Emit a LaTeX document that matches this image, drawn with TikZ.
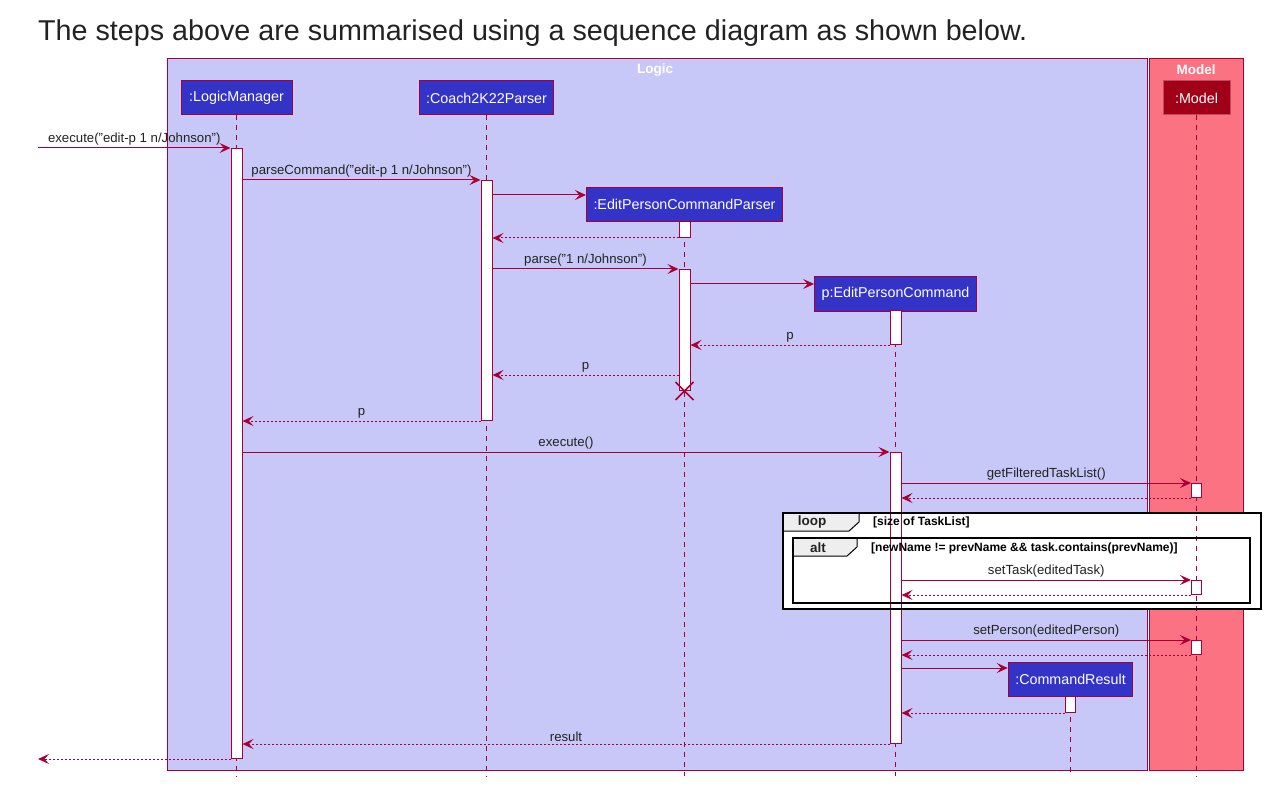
\documentclass[tikz,border=0pt]{standalone}
\usepackage{fontspec}
\setmainfont{Liberation Sans}
\usetikzlibrary{arrows.meta,positioning}
\definecolor{umlred}{RGB}{168,0,54}
\definecolor{umlblue}{RGB}{51,51,200}
\definecolor{logicbg}{RGB}{200,200,248}
\definecolor{modelbg}{RGB}{251,114,130}
\definecolor{modeldark}{RGB}{160,0,24}
\definecolor{labelgrey}{RGB}{34,34,34}
\definecolor{tabgrey}{RGB}{238,238,238}
\tikzset{
  sqgroup/.style={draw=umlred, line width=1pt},
  sqtitle/.style={text=white, inner sep=0pt, font=\fontsize{13.5}{16}\selectfont\bfseries},
  sqpart/.style={rectangle, draw=umlred, fill=umlblue, text=white, line width=1pt,
                 minimum height=34pt, inner xsep=7pt, font=\fontsize{14.3}{17}\selectfont},
  sqmodel/.style={sqpart, fill=modeldark, draw=modeldark!70!white, minimum width=67pt},
  sqlife/.style={umlred, line width=0.8pt, dash pattern=on 5pt off 5pt},
  sqbar/.style={rectangle, draw=umlred, fill=white, line width=1pt, minimum width=11pt,
                inner sep=0pt, anchor=north},
  sqcall/.style={-{Stealth[length=11pt, width=10pt, inset=4.5pt]}, umlred, line width=1pt},
  sqret/.style={sqcall, dash pattern=on 2pt off 2pt},
  sqlbl/.style={above, inner sep=2pt, text=labelgrey, font=\fontsize{13.2}{15}\selectfont},
  sqkill/.style={umlred, line width=1.6pt},
  sqframe/.style={draw=black, line width=2.5pt},
  sqtab/.style={draw=black, fill=tabgrey, line width=1pt},
  sqkey/.style={text=labelgrey, inner sep=0pt, font=\fontsize{13.5}{15}\selectfont\bfseries},
  sqguard/.style={anchor=west, inner sep=0pt, text=black, font=\fontsize{12}{13}\selectfont\bfseries},
}

\begin{document}
\begin{tikzpicture}[x=1pt, y=-1pt]
  \useasboundingbox (0,0) rectangle (1274,802);

  % ---- caption -------------------------------------------------------------
  \node[anchor=west, inner sep=0pt, text=labelgrey, font=\fontsize{28.7}{34}\selectfont] (caption)
    at (38,33) {The steps above are summarised using a sequence diagram as shown below.};

  % ---- the two groups --------------------------------------------------------
  \draw[sqgroup, fill=logicbg] (167,59) rectangle (1147,770);
  \draw[sqgroup, fill=modelbg] (1149,59) rectangle (1243,770);
  \node[sqtitle] (logicT) at (655,70) {Logic};
  \node[sqtitle] (modelT) at (1196,70) {Model};

  % ---- loop / alt frames (white under the lifelines) -------------------------
  \fill[white] (783,513) rectangle (1261,609);

  % ---- participants and lifelines ------------------------------------------
  \coordinate (bottom) at (0,776);
  \node[sqpart, minimum width=111pt] (lm)  at (236.5,98)  {:LogicManager};
  \node[sqpart]  (cp)  at (486.5,98)  {:Coach2K22Parser};
  \node[sqpart]  (ecp) at (684.5,204.5) {:EditPersonCommandParser};
  \node[sqpart]  (ec)  at (895.5,294) {p:EditPersonCommand};
  \node[sqpart]  (cr)  at (1070.5,679) {:CommandResult};
  \node[sqmodel] (mo)  at (1196.5,98) {:Model};
  \foreach \p in {lm,cp,ecp,ec,cr,mo}
    \draw[sqlife] (\p.south) -- (\p.south |- bottom);

  % ---- activations -----------------------------------------------------------
  \node[sqbar, minimum height=610pt] (lmA)  at (lm |- 0,148)  {};
  \node[sqbar, minimum height=240pt] (cpA)  at (cp |- 0,180)  {};
  \node[sqbar, minimum height=16pt]  (ecpA) at (ecp |- 0,221) {};
  \node[sqbar, minimum height=121pt] (ecpB) at (ecp |- 0,269) {};
  \node[sqbar, minimum height=34pt]  (ecA)  at (ec |- 0,310)  {};
  \node[sqbar, minimum height=291pt] (ecB)  at (ec |- 0,452)  {};
  \node[sqbar, minimum height=14pt, minimum width=10pt] (moA) at (mo |- 0,483) {};
  \node[sqbar, minimum height=14pt, minimum width=10pt] (moB) at (mo |- 0,580) {};
  \node[sqbar, minimum height=14pt, minimum width=10pt] (moC) at (mo |- 0,640) {};
  \node[sqbar, minimum height=16pt, minimum width=10pt] (crA) at (cr |- 0,696) {};

  % ---- loop / alt frames -----------------------------------------------------
  \draw[sqtab] (783,513) -- (859,513) -- (859,522) -- (849,531) -- (783,531) -- cycle;
  \draw[sqframe] (783,513) rectangle (1261,609);
  \node[sqkey] (loopK) at (812,522) {loop};
  \node[sqguard] (loopG) at (873,522) {[size of TaskList]};
  \draw[sqtab] (793,538) -- (857,538) -- (857,547) -- (847,556) -- (793,556) -- cycle;
  \draw[sqframe] (793,538) rectangle (1250,603);
  \node[sqkey] (altK) at (818,547.5) {alt};
  \node[sqguard] (altG) at (871,548) {[newName != prevName \&\& task.contains(prevName)]};

  % ---- messages --------------------------------------------------------------
  \coordinate (ext) at (38,148);
  \draw[sqcall] (ext) -- node[sqlbl] {execute("edit-p 1 n/Johnson")} (lmA.north west);
  \draw[sqcall] (lmA.east |- cpA.north) -- node[sqlbl] {parseCommand("edit-p 1 n/Johnson")} (cpA.north west);
  \draw[sqcall] (cpA.east |- 0,195) -- (ecp.west |- 0,195);
  \draw[sqret]  (ecpA.south west) -- (cpA.east |- ecpA.south);
  \draw[sqcall] (cpA.east |- ecpB.north) -- node[sqlbl] {parse("1 n/Johnson")} (ecpB.north west);
  \draw[sqcall] (ecpB.east |- 0,284) -- (ec.west |- 0,284);
  \draw[sqret]  (ecA.south west) -- node[sqlbl] {p} (ecpB.east |- ecA.south);
  \draw[sqret]  (ecpB.west |- 0,375) -- node[sqlbl] {p} (cpA.east |- 0,375);
  \draw[sqkill] (ecpB.south) +(-9,-9) -- +(9,9) (ecpB.south) +(-9,9) -- +(9,-9);
  \draw[sqret]  (cpA.south west) -- node[sqlbl] {p} (lmA.east |- cpA.south);
  \draw[sqcall] (lmA.east |- ecB.north) -- node[sqlbl] {execute()} (ecB.north west);
  \draw[sqcall] (ecB.east |- moA.north) -- node[sqlbl] {getFilteredTaskList()} (moA.north west);
  \draw[sqret]  (moA.south west) -- (ecB.east |- moA.south);
  \draw[sqcall] (ecB.east |- moB.north) -- node[sqlbl] {setTask(editedTask)} (moB.north west);
  \draw[sqret]  (moB.south west) -- (ecB.east |- moB.south);
  \draw[sqcall] (ecB.east |- moC.north) -- node[sqlbl] {setPerson(editedPerson)} (moC.north west);
  \draw[sqret]  (moC.south west) -- (ecB.east |- moC.south);
  \draw[sqcall] (ecB.east |- 0,668) -- (cr.west |- 0,668);
  \draw[sqret]  (crA.south west) -- (ecB.east |- crA.south);
  \draw[sqret]  (ecB.south west) -- node[sqlbl] {result} (lmA.east |- ecB.south);
  \draw[sqret]  (lmA.south west) -- (ext |- lmA.south);
\end{tikzpicture}
\end{document}
